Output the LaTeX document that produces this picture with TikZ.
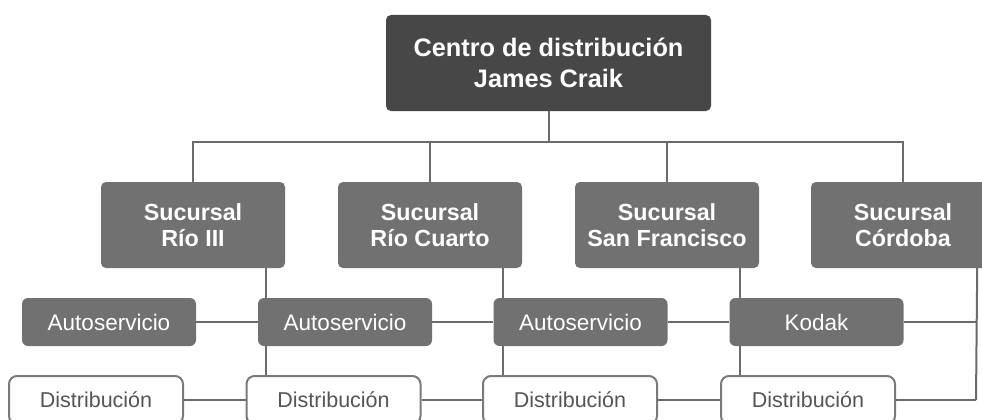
\documentclass[tikz,border=0pt]{standalone}
\usepackage{fontspec}
\setmainfont{Liberation Sans}
\definecolor{topfill}{HTML}{474747}
\definecolor{midfill}{HTML}{717171}
\definecolor{linecol}{HTML}{6B6B6B}
\definecolor{boxline}{HTML}{7A7A7A}
\definecolor{distext}{HTML}{555555}
\begin{document}
\begin{tikzpicture}[x=1pt,y=-1pt,
  conn/.style={draw=linecol,line width=2pt},
  topbox/.style={fill=topfill,rounded corners=5pt,minimum width=325pt,minimum height=96pt,inner sep=0pt,align=center,text=white,font=\fontsize{25.3}{31}\selectfont\bfseries},
  sucbox/.style={fill=midfill,rounded corners=5pt,minimum width=184pt,minimum height=86pt,inner sep=0pt,align=center,text=white,font=\fontsize{23.3}{26}\selectfont\bfseries},
  unitbox/.style={fill=midfill,rounded corners=6pt,minimum width=174pt,minimum height=48pt,inner sep=0pt,text=white,font=\fontsize{22.5}{26}\selectfont},
  distbox/.style={draw=boxline,line width=2pt,fill=white,rounded corners=8pt,minimum width=174pt,minimum height=48pt,inner sep=0pt,text=distext,font=\fontsize{21.5}{25}\selectfont}]
\clip (0,0) rectangle (982,420);
\fill[white] (0,0) rectangle (982,420);
% nodes
\node[topbox] (top) at (548.5,63) {Centro de distribución\\James Craik};
\node[sucbox] (r1) at (193,225) {Sucursal\\Río III};
\node[sucbox] (r2) at (430,225) {Sucursal\\Río Cuarto};
\node[sucbox] (r3) at (667,225) {Sucursal\\San Francisco};
\node[sucbox] (r4) at (903,225) {Sucursal\\Córdoba};
\node[unitbox] (a1) at (109,322) {Autoservicio};
\node[unitbox] (a2) at (345,322) {Autoservicio};
\node[unitbox] (a3) at (580.5,322) {Autoservicio};
\node[unitbox] (k) at (816.5,322) {Kodak};
\coordinate (bus) at (548.5,142);
\coordinate (rv) at (976,322);
\coordinate (rd) at (976,400);
\coordinate (drow) at (0,376);
% connectors
\draw[conn] (top.south) -- (top.south |- bus);
\draw[conn] (r1.north) -- (r1.north |- bus) -- (r4.north |- bus) -- (r4.north);
\draw[conn] (r2.north) -- (r2.north |- bus);
\draw[conn] (r3.north) -- (r3.north |- bus);
\draw[conn] ([xshift=-19pt]r1.south east) -- ([xshift=-19pt]r1.south east |- a2.north);
\draw[conn] ([xshift=-19pt]r2.south east) -- ([xshift=-19pt]r2.south east |- a3.north);
\draw[conn] ([xshift=-19pt]r3.south east) -- ([xshift=-19pt]r3.south east |- k.north);
\draw[conn] ([xshift=-18pt]r4.south east) -- (rd);
\draw[conn] ([xshift=-19pt]r1.south east |- a2.south) -- ([xshift=-19pt]r1.south east |- drow);
\draw[conn] ([xshift=-19pt]r2.south east |- a3.south) -- ([xshift=-19pt]r2.south east |- drow);
\draw[conn] ([xshift=-19pt]r3.south east |- k.south) -- ([xshift=-19pt]r3.south east |- drow);
\draw[conn] (a1.east) -- (a2.west);
\draw[conn] (a2.east) -- (a3.west);
\draw[conn] (a3.east) -- (k.west);
\draw[conn] (k.east) -- (rv);
\node[distbox] (d1) at (96,400) {Distribución};
\node[distbox] (d2) at (333.5,400) {Distribución};
\node[distbox] (d3) at (570,400) {Distribución};
\node[distbox] (d4) at (808,400) {Distribución};
\draw[conn] (d1.east) -- (d2.west);
\draw[conn] (d2.east) -- (d3.west);
\draw[conn] (d3.east) -- (d4.west);
\draw[conn] (d4.east) -- (rd);
\end{tikzpicture}
\end{document}
